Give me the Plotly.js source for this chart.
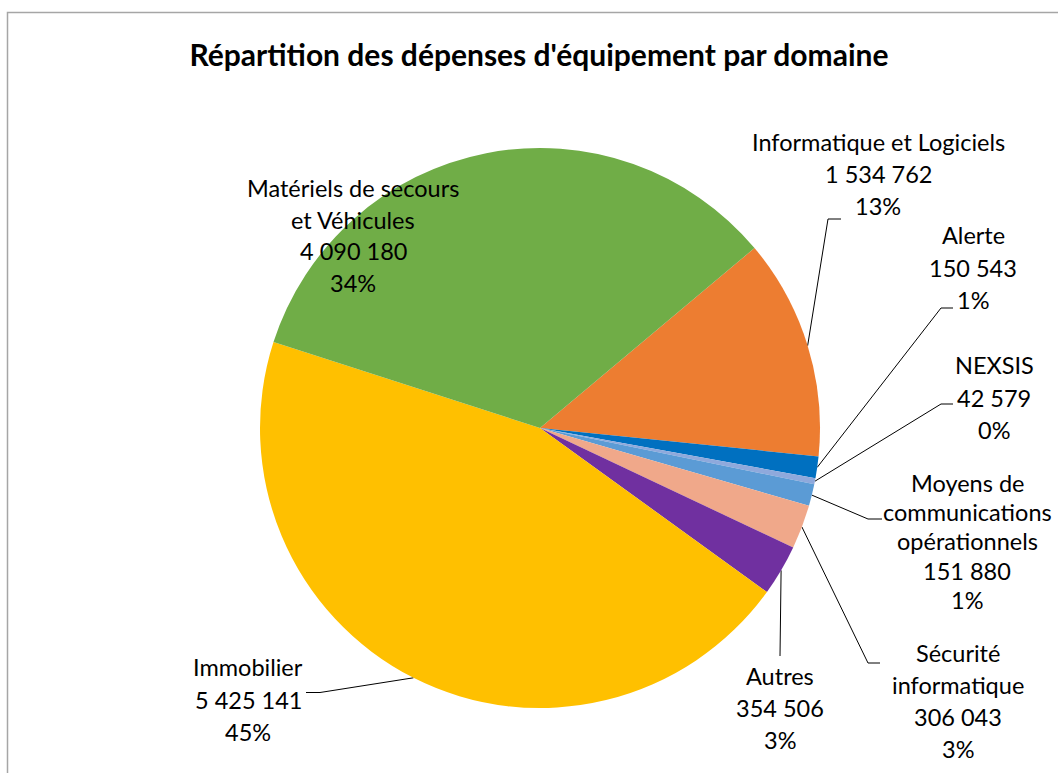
<!DOCTYPE html>
<html>
<head>
<meta charset="utf-8">
<script src="https://cdn.plot.ly/plotly-3.0.1.min.js"></script>
<style>html,body{margin:0;padding:0;background:#fff;}#chart{width:1058px;height:773px;}</style>
</head>
<body>
<div id="chart"></div>
<script>
// ---- data ----
const categories = ['Informatique et Logiciels', 'Alerte', 'NEXSIS', 'Moyens de communications opérationnels',
  'Sécurité informatique', 'Autres', 'Immobilier', 'Matériels de secours et Véhicules'];
const labelLines = [['Informatique et Logiciels'], ['Alerte'], ['NEXSIS'], ['Moyens de', 'communications', 'opérationnels'],
  ['Sécurité', 'informatique'], ['Autres'], ['Immobilier'], ['Matériels de secours', 'et Véhicules']];
const values = [1534762, 150543, 42579, 151880, 306043, 354506, 5425141, 4090180];
const colors = ['#ED7D31', '#0070C0', '#8FA9DC', '#5B9BD5', '#F0A88A', '#7030A0', '#FFC000', '#70AD47'];
const chartTitle = "Répartition des dépenses d'équipement par domaine";

// ---- layout constants (pixels) ----
const W = 1058, H = 773;
const CX = 540, CY = 428, R = 280, ROT = 50;
const FONT = 'Lato, "Open Sans", sans-serif';
const FS = 23.5;
// label block: centre x, first-line y, line gap
const labelPos = [[878, 142, 32], [973, 235, 32.5], [994, 365, 32.5], [967, 483, 29.2], [958, 653, 32], [780, 676, 32], [248, 667, 32.5], [353, 188, 31.7]];
// leader lines: points after the slice-edge start (null = no leader)
const leaderPts = [[[828, 219], [841, 219]], [[941, 308], [953, 308]], [[941, 404], [953, 404]], [[868, 519], [882, 519]],
  [[868, 663], [880, 663]], [[780, 656]], [[320, 692.5], [306, 692.5]], null];

const total = values.reduce((a, b) => a + b, 0);
const fmt = v => String(v).replace(/\B(?=(\d{3})+(?!\d))/g, ' ');
const pct = v => Math.round(v / total * 100) + '%';

const traces = [{
  type: 'pie', values: values, labels: categories, sort: false, direction: 'clockwise', rotation: ROT,
  marker: {colors: colors, line: {width: 0}}, textinfo: 'none', hoverinfo: 'none', showlegend: false,
  domain: {x: [(CX - R) / W, (CX + R) / W], y: [(H - CY - R) / H, (H - CY + R) / H]}
}];

const annotations = [];
let cum = 0;
values.forEach((v, i) => {
  const mid = (ROT + (cum + v / 2) / total * 360) * Math.PI / 180;
  cum += v;
  const sx = CX + R * Math.sin(mid), sy = CY - R * Math.cos(mid);
  if (leaderPts[i]) {
    const pts = [[sx, sy]].concat(leaderPts[i]);
    traces.push({type: 'scatter', mode: 'lines', x: pts.map(p => p[0]), y: pts.map(p => p[1]),
      line: {color: '#000', width: 1}, hoverinfo: 'skip', showlegend: false, xaxis: 'x', yaxis: 'y'});
  }
  const lines = labelLines[i].concat([fmt(v), pct(v)]);
  const [lx, ly, gap] = labelPos[i];
  lines.forEach((t, k) => {
    annotations.push({xref: 'x', yref: 'y', x: lx, y: ly + k * gap, text: t, showarrow: false,
      xanchor: 'center', yanchor: 'middle', font: {family: FONT, size: FS, color: '#000'}});
  });
});

const layout = {
  width: W, height: H, margin: {l: 0, r: 0, t: 0, b: 0}, paper_bgcolor: '#fff', plot_bgcolor: 'rgba(0,0,0,0)',
  showlegend: false,
  title: {text: '<b>' + chartTitle + '</b>', x: 539 / W, xanchor: 'center', y: 1 - 55 / H, yanchor: 'middle',
    font: {family: FONT, size: 30, color: '#000'}},
  xaxis: {range: [0, W], visible: false, fixedrange: true, domain: [0, 1]},
  yaxis: {range: [H, 0], visible: false, fixedrange: true, domain: [0, 1]},
  shapes: [{type: 'rect', xref: 'x', yref: 'y', x0: 7.5, y0: 12.5, x1: W + 10, y1: H + 10,
    line: {color: '#A6A6A6', width: 1.5}, fillcolor: 'rgba(0,0,0,0)', layer: 'below'}],
  annotations: annotations
};
Plotly.newPlot('chart', traces, layout, {staticPlot: true, displayModeBar: false});
</script>
</body>
</html>
